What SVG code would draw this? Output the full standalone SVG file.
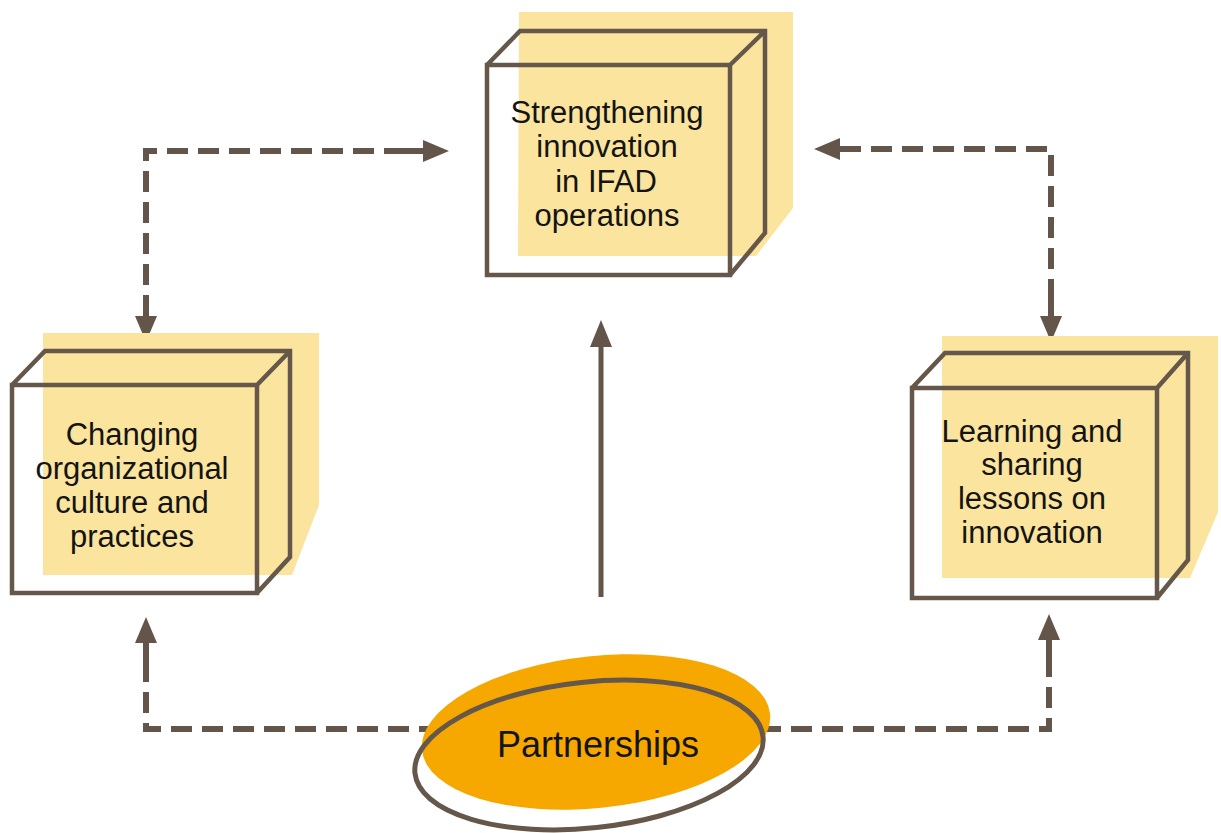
<svg xmlns="http://www.w3.org/2000/svg" width="1221" height="833" viewBox="0 0 1221 833">
  <style>
    .bg { fill: #ffffff; }
    .shade { fill: #fbe49e; }
    .box { fill: none; stroke: #66574b; stroke-width: 4.5; stroke-linejoin: miter; }
    .label { font-family: "Liberation Sans", Arial, Helvetica, sans-serif; font-size: 31px; fill: #141414; text-anchor: middle; }
    .dash { fill: none; stroke: #63554a; stroke-width: 6; stroke-dasharray: 21 10; }
    .solid { fill: none; stroke: #63554a; stroke-width: 5; }
  </style>
  <defs>
    <!-- arrowhead with a short shaft so the last dash always meets the head -->
    <marker id="head" markerUnits="userSpaceOnUse" markerWidth="60" markerHeight="30" refX="0" refY="0" orient="auto-start-reverse" overflow="visible">
      <path d="M-18,-3 H0 V-11 L26,0 L0,11 V3 H-18 Z" fill="#63554a"/>
    </marker>
    <marker id="headSolid" markerUnits="userSpaceOnUse" markerWidth="60" markerHeight="30" refX="0" refY="0" orient="auto" overflow="visible">
      <path d="M-2,-11 L25,0 L-2,11 Z" fill="#63554a"/>
    </marker>
  </defs>

  <rect class="bg" x="0" y="0" width="1221" height="833"/>

  <!-- connectors -->
  <g id="connectors">
    <path class="dash" d="M146,316 V151 H423" marker-start="url(#head)" marker-end="url(#head)"/>
    <path class="dash" d="M840,149 H1051 V316" marker-start="url(#head)" marker-end="url(#head)"/>
    <path class="dash" d="M440,729 H146 V643" marker-end="url(#head)"/>
    <path class="dash" d="M760,729 H1049 V640" marker-end="url(#head)"/>
    <path class="solid" d="M601,597 V345" marker-end="url(#headSolid)"/>
  </g>

  <!-- top cube -->
  <g id="node-strengthening">
    <polygon class="shade" points="519,12 793,12 793,208 756,256 518,256"/>
    <path class="box" d="M487,65 H730 V275 H487 Z M487,65 L520,31 H765 V233 L730,275 M730,65 L765,31"/>
    <text class="label" x="607" y="123">Strengthening</text>
    <text class="label" x="607" y="157">innovation</text>
    <text class="label" x="606" y="192">in IFAD</text>
    <text class="label" x="607" y="226">operations</text>
  </g>

  <!-- left cube -->
  <g id="node-culture">
    <polygon class="shade" points="43,333 319,333 319,505 292,575 43,575"/>
    <path class="box" d="M12,385 H257 V593 H12 Z M12,385 L45,351 H290 V557 L257,593 M257,385 L290,351"/>
    <text class="label" x="132" y="445">Changing</text>
    <text class="label" x="132" y="479">organizational</text>
    <text class="label" x="132" y="513">culture and</text>
    <text class="label" x="132" y="547">practices</text>
  </g>

  <!-- right cube -->
  <g id="node-learning">
    <polygon class="shade" points="942,336 1218,336 1218,512 1190,578 942,578"/>
    <path class="box" d="M912,388 H1157 V598 H912 Z M912,388 L945,353 H1188 V560 L1157,598 M1157,388 L1188,353"/>
    <text class="label" x="1032" y="442">Learning and</text>
    <text class="label" x="1032" y="475">sharing</text>
    <text class="label" x="1032" y="509">lessons on</text>
    <text class="label" x="1032" y="543">innovation</text>
  </g>

  <!-- partnerships ellipse -->
  <g id="node-partnerships">
    <ellipse cx="596" cy="732" rx="175" ry="76" fill="#f6a800" transform="rotate(-6 596 732)"/>
    <ellipse cx="589" cy="755" rx="175" ry="73" fill="none" stroke="#66574b" stroke-width="5" transform="rotate(-6 589 755)"/>
    <text class="label" x="598" y="757" style="font-size:36px">Partnerships</text>
  </g>
</svg>
